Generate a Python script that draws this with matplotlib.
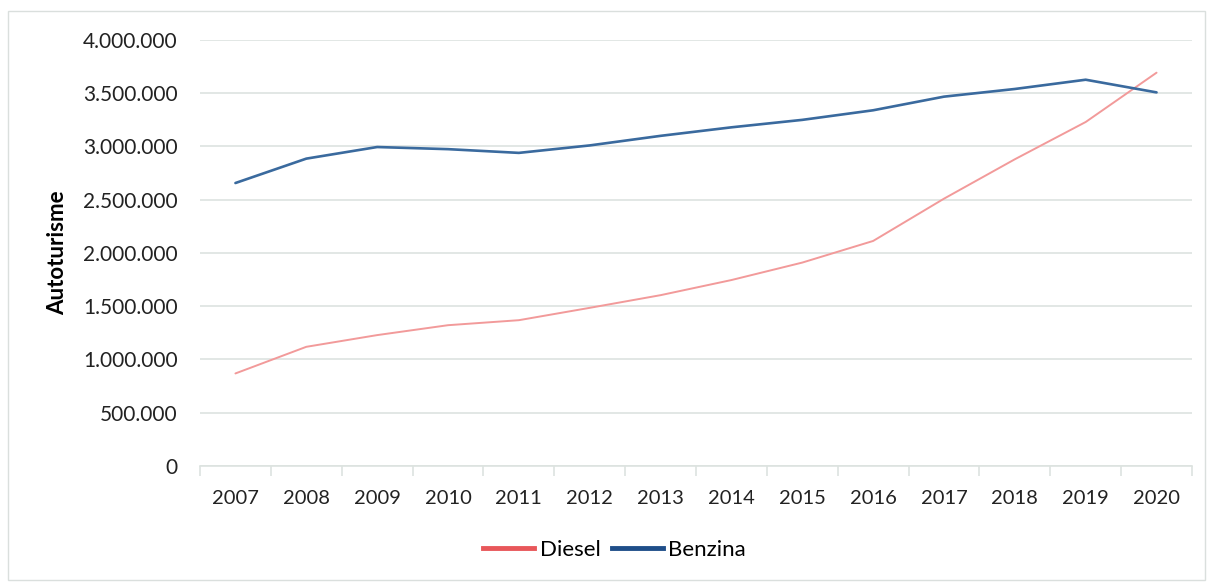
import numpy as np
import matplotlib
matplotlib.use("Agg")
import matplotlib.pyplot as plt
from matplotlib.lines import Line2D
from matplotlib.patches import Rectangle
from matplotlib.ticker import FuncFormatter, FixedLocator

years = ["2007", "2008", "2009", "2010", "2011", "2012", "2013",
         "2014", "2015", "2016", "2017", "2018", "2019", "2020"]
diesel = [869000, 1119000, 1229000, 1322000, 1369000, 1485000, 1604000,
          1746000, 1910000, 2113000, 2510000, 2880000, 3230000, 3693000]
benzina = [2657000, 2886000, 2995000, 2975000, 2940000, 3010000, 3100000,
           3180000, 3250000, 3340000, 3468000, 3540000, 3627000, 3508000]

plt.rcParams.update({"font.family": ["Lato", "DejaVu Sans"], "font.size": 12})

fig = plt.figure(figsize=(12.1, 5.83), dpi=100)
ax = fig.add_axes([0.1653, 0.2007, 0.8198, 0.7307])

# light frame round the whole chart
fig.patches.append(Rectangle((8 / 1210, 3 / 583), 1197 / 1210, 569 / 583,
                             transform=fig.transFigure, fill=False,
                             edgecolor="#DADFDD", lw=1.0))

x = np.arange(len(years))
ax.plot(x, diesel, color="#F29A9A", lw=1.4, solid_capstyle="round")
ax.plot(x, benzina, color="#3A6A9E", lw=1.9, solid_capstyle="round")

ax.set_xlim(-0.5, len(years) - 0.5)
ax.set_ylim(0, 4000000)
ax.set_yticks(np.arange(0, 4000001, 500000))
ax.yaxis.set_major_formatter(FuncFormatter(lambda v, p: f"{int(v):,}".replace(",", ".")))
ax.grid(axis="y", color="#DDE3E0", lw=1.2)
ax.set_axisbelow(True)

ax.set_xticks(x)
ax.set_xticklabels(years)
ax.xaxis.set_minor_locator(FixedLocator(np.arange(-0.5, len(years), 1.0)))
ax.tick_params(axis="x", which="major", length=0, pad=17, labelsize=14.5, colors="#222222")
ax.tick_params(axis="x", which="minor", length=7, width=1.2, color="#DDE3E0")
ax.tick_params(axis="y", length=0, pad=16, labelsize=15, colors="#222222")

for s in ("top", "right", "left"):
    ax.spines[s].set_visible(False)
ax.spines["bottom"].set_color("#DDE3E0")
ax.spines["bottom"].set_linewidth(1.2)

ax.set_ylabel("Autoturisme", fontsize=16, fontweight="bold")
ax.yaxis.set_label_coords(-0.133, 0.5)

handles = [Line2D([], [], color="#E8575A", lw=3.5),
           Line2D([], [], color="#1F4E89", lw=3.5)]
fig.legend(handles, ["Diesel", "Benzina"], loc="center", bbox_to_anchor=(0.508, 0.057),
           ncol=2, frameon=False, fontsize=16, handlelength=2.3, handletextpad=0.25,
           columnspacing=0.5)

fig.savefig("out.png", dpi=100)
